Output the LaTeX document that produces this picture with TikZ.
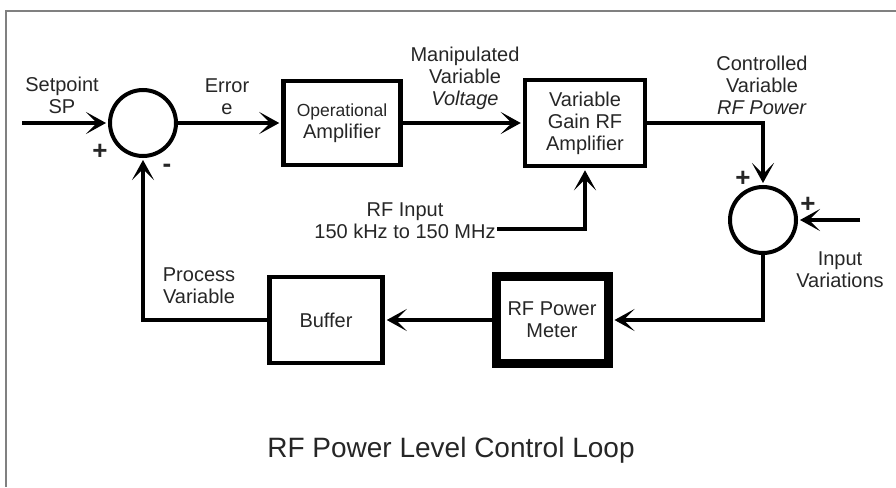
\documentclass[tikz,border=0pt]{standalone}
\usepackage{fontspec}
\setmainfont{Liberation Sans}
\usetikzlibrary{arrows.meta}
\begin{document}
\begin{tikzpicture}[x=1pt,y=-1pt,
  txt/.style={text=black!85, font=\fontsize{20}{22}\selectfont, align=center, inner sep=0pt},
  sgn/.style={text=black!85, font=\fontsize{26}{26}\selectfont\bfseries, inner sep=0pt},
  box/.style={draw=black, line width=4.5pt, text=black!85, font=\fontsize{20}{22}\selectfont, align=center, inner sep=0pt},
  sum/.style={draw=black, circle, line width=4pt, minimum size=66pt, inner sep=0pt},
  arr/.style={line width=4pt, shorten >=2pt, -{Stealth[length=20pt,width=22pt,inset=11pt]}}]
\useasboundingbox (0,0) rectangle (896,487);
\draw[gray, line width=2pt] (896,11) -- (6,11) -- (6,487);

% blocks
\node[sum] (s1) at (143,123) {};
\node[box, minimum width=117pt, minimum height=84pt] (op) at (342,123) {\fontsize{17.5}{22}\selectfont Operational\\Amplifier};
\node[box, minimum width=120pt, minimum height=86pt] (vga) at (585,123) {Variable\\Gain RF\\Amplifier};
\node[sum] (s2) at (763,220) {};
\node[box, line width=9pt, minimum width=112pt, minimum height=87pt] (pm) at (552,320) {RF Power\\Meter};
\node[box, minimum width=113pt, minimum height=86pt] (buf) at (326,320) {Buffer};

% free ends
\coordinate (sp) at (22,123);
\coordinate (iv) at (860,220);
\coordinate (rf) at (497,229);

% connectors
\draw[arr] (sp) -- (s1.west);
\draw[arr] (s1.east) -- (op.west);
\draw[arr] (op.east) -- (vga.west);
\draw[arr] (vga.east) -| (s2.north);
\draw[arr] (iv) -- (s2.east);
\draw[arr] (s2.south) |- (pm.east);
\draw[arr] (pm.west) -- (buf.east);
\draw[arr] (buf.west) -| (s1.south);
\draw[arr] (rf) -| (vga.south);

% labels
\node[txt] (lsp) at (62,95) {Setpoint\\SP};
\node[txt] (lerr) at (227,97) {Error\\e};
\node[txt] (lmv) at (465,78) {Manipulated\\Variable\\\textit{Voltage}};
\node[txt] (lcv) at (762,85) {Controlled\\Variable\\\textit{RF Power}};
\node[txt] (liv) at (840,270) {Input\\Variations};
\node[txt] (lrf) at (405,221) {RF Input\\150 kHz to 150 MHz};
\node[txt] (lpv) at (199,286) {Process\\Variable};
\node[sgn] (p1) at (100,152) {+};
\node[sgn] (m1) at (167,168) {-};
\node[sgn] (p2) at (743,179) {+};
\node[sgn] (p3) at (808,205) {+};
\node[txt, font=\fontsize{28}{30}\selectfont] (title) at (451,450) {RF Power Level Control Loop};
\end{tikzpicture}
\end{document}
